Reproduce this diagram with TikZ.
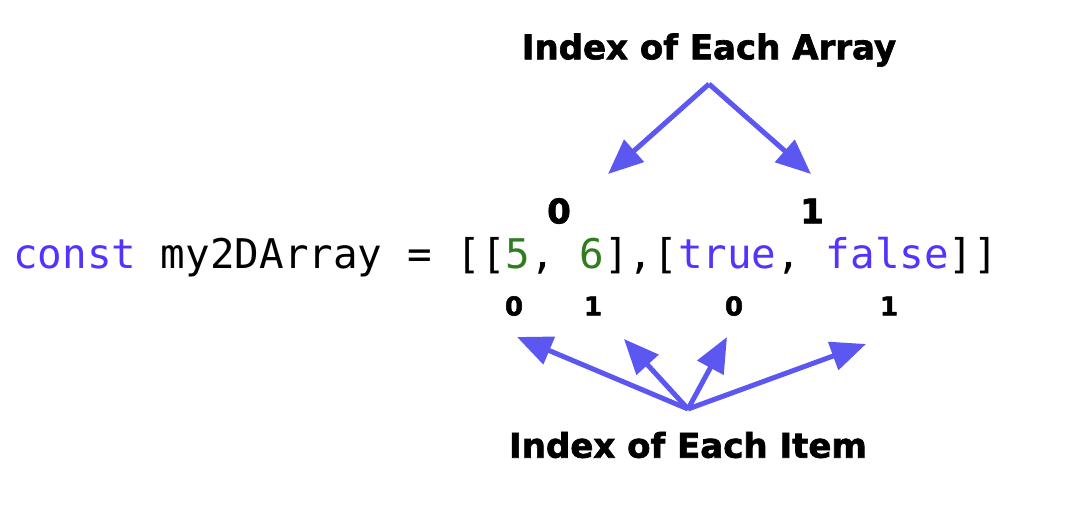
\documentclass[tikz,border=0pt]{standalone}
\usepackage{fontspec}
\setmainfont{DejaVu Sans}
\newfontfamily\heavyfont{DejaVu Sans Bold}[FakeBold=2]
\newfontfamily\codefont{DejaVu Sans Mono}
\usetikzlibrary{arrows.meta}
\definecolor{arrowc}{HTML}{5B57F0}
\definecolor{kw}{HTML}{5533FF}
\definecolor{num}{HTML}{2F7D1F}
\tikzset{
  lbl/.style={inner sep=0pt, font=\heavyfont\fontsize{34}{40}\selectfont},
  bigidx/.style={inner sep=0pt, font=\heavyfont\fontsize{34}{38}\selectfont},
  smallidx/.style={inner sep=0pt, font=\heavyfont\fontsize{26}{30}\selectfont},
  pointer/.style={draw=arrowc, line width=5pt, -{Triangle[length=35pt,width=29pt]}, arrowc},
}
\begin{document}
\begin{tikzpicture}[x=1pt,y=-1pt]
\useasboundingbox (0,0) rectangle (1069,507);
\node[lbl] (arr) at (709,50) {Index of Each Array};
\node[lbl] (item) at (688,445) {Index of Each Item};
\node[bigidx] (a0) at (559,211) {0};
\node[bigidx] (a1) at (812,211) {1};
\node[anchor=base west, inner sep=0pt, font=\codefont\fontsize{40.9}{44}\selectfont] (code) at (13,268)
 {\textcolor{kw}{const} my2DArray = [[\textcolor{num}{5}, \textcolor{num}{6}],[\textcolor{kw}{true}, \textcolor{kw}{false}]]};
\node[smallidx] (i0) at (514,306) {0};
\node[smallidx] (i1) at (593,306) {1};
\node[smallidx] (i2) at (734,306) {0};
\node[smallidx] (i3) at (889,306) {1};
\coordinate (top) at (709,84);
\coordinate (t0) at (608,174);
\coordinate (t1) at (811,174);
\coordinate (bot) at (688,409);
\coordinate (b0) at (517,337);
\coordinate (b1) at (624,339);
\coordinate (b2) at (727,337);
\coordinate (b3) at (866,344);
\draw[pointer] (top) -- (t0);
\draw[pointer] (top) -- (t1);
\draw[pointer] (bot) -- (b0);
\draw[pointer] (bot) -- (b1);
\draw[pointer] (bot) -- (b2);
\draw[pointer] (bot) -- (b3);
\end{tikzpicture}
\end{document}
